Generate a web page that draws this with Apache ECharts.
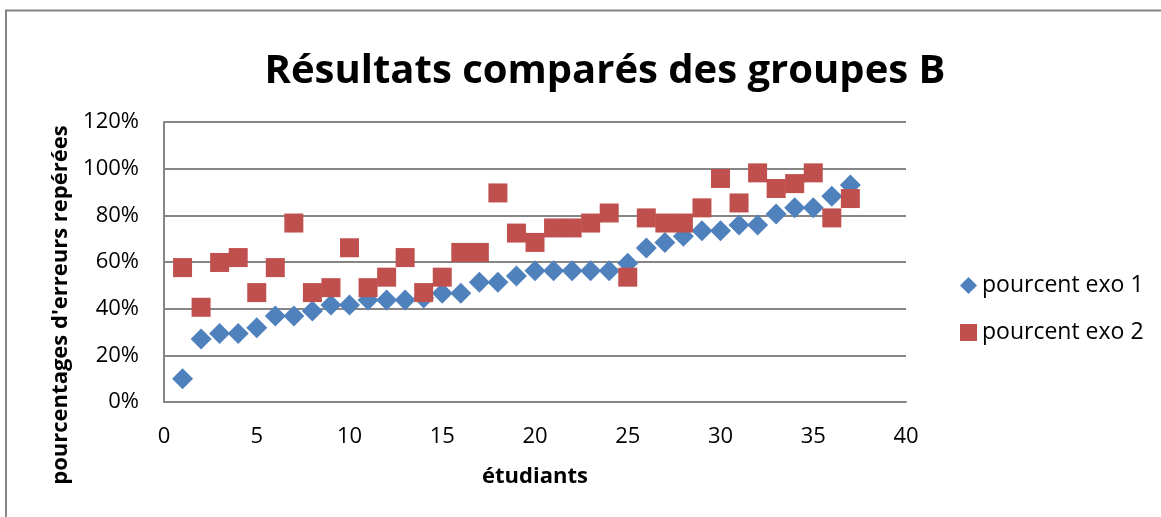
<!DOCTYPE html>
<html>
<head>
<meta charset="utf-8">
<script src="https://cdn.jsdelivr.net/npm/echarts@6/dist/echarts.min.js"></script>
<style>
  html, body { margin: 0; padding: 0; background: #fff; }
  #chart { width: 1161px; height: 517px; }
</style>
</head>
<body>
<div id="chart"></div>
<script>
// numéros des étudiants
var etudiants = [1,2,3,4,5,6,7,8,9,10,11,12,13,14,15,16,17,18,19,20,21,22,23,24,25,26,27,28,29,30,31,32,33,34,35,36,37];
// pourcentages
var exo1 = [0.10,0.27,0.294,0.294,0.318,0.369,0.369,0.39,0.416,0.416,0.437,0.437,0.437,0.446,0.466,0.466,0.513,0.513,0.54,0.562,
            0.562,0.562,0.562,0.562,0.595,0.66,0.684,0.71,0.734,0.734,0.759,0.759,0.806,0.832,0.832,0.882,0.93];
var exo2 = [0.576,0.406,0.598,0.619,0.469,0.576,0.767,0.469,0.49,0.661,0.49,0.535,0.619,0.469,0.535,0.641,0.641,0.896,0.724,0.684,
            0.746,0.746,0.767,0.81,0.535,0.789,0.767,0.767,0.832,0.958,0.853,0.982,0.915,0.936,0.982,0.789,0.872];
var nomsSeries = ['pourcent exo 1', 'pourcent exo 2'];

var chart = echarts.init(document.getElementById('chart'));

function paires(vals) {
    return etudiants.map(function (e, i) { return [e, vals[i]]; });
}

var fontFam = "'Open Sans', 'Liberation Sans', sans-serif";
var gris = '#868686';

var option = {
    backgroundColor: '#fff',
    animation: false,
    title: {
        text: 'Résultats comparés des groupes B',
        left: 600,
        textAlign: 'center',
        top: 47,
        textStyle: { fontFamily: fontFam, fontSize: 40, fontWeight: 'bold', color: '#000' }
    },
    legend: {
        orient: 'vertical',
        left: 955,
        top: 269,
        itemGap: 24,
        itemWidth: 17,
        itemHeight: 17,
        textStyle: { fontFamily: fontFam, fontSize: 23, color: '#000' },
        data: [
            { name: nomsSeries[0], icon: 'diamond' },
            { name: nomsSeries[1], icon: 'rect' }
        ]
    },
    grid: { left: 164, right: 255, top: 122, bottom: 115 },
    xAxis: {
        type: 'value',
        min: 0, max: 40, interval: 5,
        name: 'étudiants',
        nameLocation: 'middle',
        nameGap: 64,
        nameTextStyle: { fontFamily: fontFam, fontSize: 22, fontWeight: 'bold', color: '#000' },
        axisLine: { lineStyle: { color: gris, width: 2 } },
        axisTick: { show: false },
        axisLabel: { fontFamily: fontFam, fontSize: 22, color: '#000', margin: 24 },
        splitLine: { show: false }
    },
    yAxis: {
        type: 'value',
        min: 0, max: 1.2, interval: 0.2,
        name: "pourcentages d'erreurs repérées",
        nameLocation: 'middle',
        nameGap: 92,
        nameRotate: 90,
        nameTextStyle: {
            fontFamily: fontFam, fontSize: 22, fontWeight: 'bold', color: '#000',
            padding: [0, 86, 0, 0]
        },
        axisLine: { show: true, lineStyle: { color: gris, width: 2 } },
        axisTick: { show: false },
        axisLabel: {
            fontFamily: fontFam, fontSize: 22, color: '#000', margin: 25,
            formatter: function (v) { return Math.round(v * 100) + '%'; }
        },
        splitLine: { lineStyle: { color: gris, width: 2 } }
    },
    series: [
        {
            name: nomsSeries[0],
            type: 'scatter',
            symbol: 'diamond',
            symbolSize: 21,
            itemStyle: { color: '#4F81BD', opacity: 1 },
            data: paires(exo1)
        },
        {
            name: nomsSeries[1],
            type: 'scatter',
            symbol: 'rect',
            symbolSize: 19,
            itemStyle: { color: '#C0504D', opacity: 1 },
            data: paires(exo2)
        }
    ],
    graphic: [{
        type: 'rect',
        shape: { x: 6, y: 10.5, width: 1170, height: 520 },
        style: { fill: 'none', stroke: gris, lineWidth: 2 },
        silent: true
    }]
};

chart.setOption(option);
</script>
</body>
</html>
